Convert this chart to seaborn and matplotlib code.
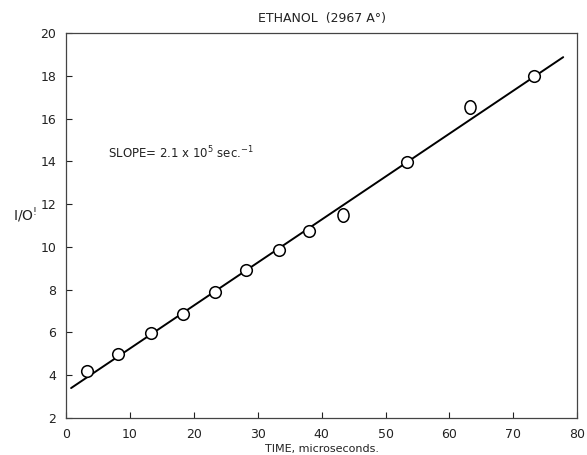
import matplotlib
matplotlib.use("Agg")
import matplotlib.pyplot as plt
from matplotlib.path import Path
from matplotlib.transforms import Affine2D
import seaborn as sns
import pandas as pd

# Measured points (time in microseconds, I/O)
time_us = [3.3, 8.2, 13.3, 18.3, 23.3, 28.2, 33.3, 38.1, 53.3, 73.3]
ratio = [4.2, 5.0, 5.97, 6.87, 7.9, 8.9, 9.85, 10.75, 13.95, 18.0]

# Points plotted as lettered "O" marks
time_o = [43.3, 63.2]
ratio_o = [11.5, 16.55]

# Least-squares line end points
fit_x = [0.8, 77.8]
fit_y = [3.4, 18.87]

x_ticks = [0, 10, 20, 30, 40, 50, 60, 70, 80]
y_ticks = [2, 4, 6, 8, 10, 12, 14, 16, 18, 20]

sns.set_theme(style="ticks")
plt.rcParams["font.family"] = ["DejaVu Sans"]

fig = plt.figure(figsize=(5.87, 4.55), dpi=100)
ax = fig.add_axes([0.1124, 0.0813, 0.871, 0.8462])

pts = pd.DataFrame({"t": time_us, "r": ratio})
fit = pd.DataFrame({"t": fit_x, "r": fit_y})
opts = pd.DataFrame({"t": time_o, "r": ratio_o})

# upright oval for the lettered "O" marks
oval = Affine2D().scale(0.82, 1.0).transform_path(Path.unit_circle())

sns.lineplot(data=fit, x="t", y="r", ax=ax, color="black", linewidth=1.4)
sns.scatterplot(data=pts, x="t", y="r", ax=ax, s=70, marker="o",
                facecolor="white", edgecolor="black", linewidth=1.1, zorder=3)
sns.scatterplot(data=opts, x="t", y="r", ax=ax, s=95, marker=oval,
                facecolor="white", edgecolor="black", linewidth=1.1, zorder=3)

ax.set_xlim(0, 80)
ax.set_ylim(2, 20)
ax.set_xticks(x_ticks)
ax.set_yticks(y_ticks)
ax.tick_params(axis="both", direction="in", length=4, width=0.8,
               labelsize=9, colors="#222222", pad=7)
for side in ["left", "right", "top", "bottom"]:
    ax.spines[side].set_visible(True)
    ax.spines[side].set_color("#444444")
    ax.spines[side].set_linewidth(0.9)

ax.set_xlabel("TIME, microseconds.", fontsize=8, color="#222222", labelpad=2)
ax.set_ylabel("I/O$^{\\mathregular{!}}$", fontsize=10, rotation=0,
              color="#222222")
ax.yaxis.set_label_coords(-0.08, 0.5)
ax.set_title("ETHANOL  (2967 A°)", fontsize=9, color="#222222", pad=8)

ax.text(6.5, 14.4, "SLOPE= 2.1 x 10$^5$ sec.$^{-1}$", fontsize=8.5,
        color="#222222", va="center", ha="left")

fig.savefig("out.png", dpi=100, facecolor="white")
